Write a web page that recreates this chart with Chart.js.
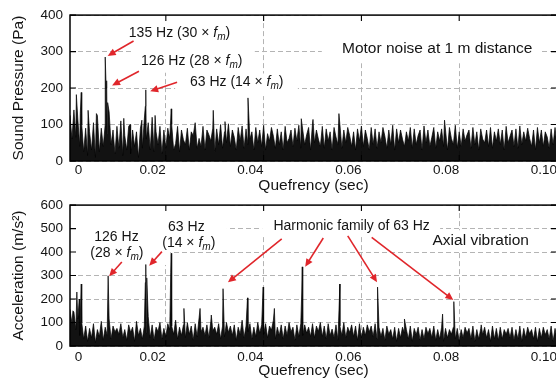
<!DOCTYPE html>
<html><head><meta charset="utf-8">
<script src="https://cdn.jsdelivr.net/npm/chart.js@4/dist/chart.umd.min.js"></script>
<style>
html,body{margin:0;padding:0;background:#fff;overflow:hidden;width:556px;height:380px;}
#c1{position:absolute;left:0;top:0;z-index:2;}
#c2{position:absolute;left:0;top:190px;z-index:1;}
</style></head><body>
<canvas id="c1" width="560" height="198"></canvas>
<canvas id="c2" width="560" height="190"></canvas>
<script>
// ---------------- data ----------------
const STEP = 0.0004; // quefrency sample spacing (sec)
const soundNoise = [
45,125,60,140,65,115,40,100,25,90, 15,80,30,105,10,125,25,90,40,100,
75,135,45,85,20,95,35,110,15,70, 30,95,20,85,40,80,10,90,35,115,
60,105,30,120,25,80,45,95,20,85, 35,90,62,100,30,48,95,25,85,58,
45,90,30,80,70,105,35,62,40,95, 30,85,72,55,90,25,88,45,100,35,
80,50,102,40,85,65,30,92,55,96, 35,88,45,60,80,30,92,50,85,40,
98,30,75,55,92,68,35,88,45,80, 30,95,50,62,85,40,90,55,98,35,
85,45,72,92,30,104,50,85,60,40, 95,35,88,55,80,30,92,66,45,100,
35,85,50,92,70,40,80,30,88,55, 96,40,85,62,30,92,45,88,35,80,
50,92,68,35,85,45,98,30,88,50, 85,60,40,80,55,92,35,88,45,70,
85,30,96,50,85,40,65,92,35,80, 55,88,40,85,30,92,62,45,98,35,
80,40,88,55,72,85,35,92,45,80, 30,88,60,50,85,40,92,35,80,55,
88,45,85,30,95,50,68,85,40,88, 35,96,45,80,55,90,62,40,85,30,
92,50,85,40,80,66,35,88,45,92,40,85
];
const soundPeaks = [ // [quefrency (s), sound pressure (Pa)]
[0.0017,182],[0.0025,130],[0.0027,188],[0.0041,139],[0.0058,130],
[0.0076,285],[0.0078,200],[0.0079,220],[0.0081,160],[0.0114,117],
[0.0127,100],[0.0151,112],[0.0158,150],[0.0159,195],[0.0178,125],
[0.0211,143],[0.0297,139],[0.0321,108],[0.0368,173],[0.0477,116],
[0.0501,114],[0.0554,130],[0.0770,112]
];
const accelNoise = [
130,155,95,145,70,115,45,100,30,85, 20,75,35,95,15,70,40,105,25,80,
45,115,30,85,60,75,50,95,35,70, 25,90,58,80,20,105,45,75,30,85,
55,125,35,90,25,80,62,100,30,75, 40,95,70,85,50,110,30,80,45,90,
35,100,50,85,25,95,40,120,60,80, 45,90,35,105,65,80,50,95,30,85,
40,100,58,85,45,90,25,80,50,110, 35,85,62,95,30,80,40,100,55,90,
50,95,35,85,68,110,30,80,45,90, 30,85,45,100,60,80,25,90,40,95,
45,90,55,80,40,95,35,85,62,100, 40,85,30,95,45,72,35,90,25,85,
45,100,35,80,58,90,40,85,25,95, 35,80,45,90,60,85,40,95,30,80,
40,75,25,85,50,70,30,80,20,75, 35,80,55,70,30,85,20,75,48,80,
25,70,30,80,52,75,35,85,25,70, 30,80,20,75,35,70,50,80,30,75,
20,70,35,80,55,75,30,85,20,70, 30,75,48,80,35,70,20,85,30,75,
25,80,30,70,50,75,35,80,25,70, 30,85,20,75,35,80,52,70,30,80,
20,75,35,80,48,70,30,85,20,75,30,80
];
const accelPeaks = [ // [quefrency (s), acceleration (m/s^2)]
[0.0010,150],[0.0018,230],[0.0023,200],[0.0027,264],[0.0082,299],
[0.0158,270],[0.0159,347],[0.0161,290],[0.0210,312],[0.0211,395],
[0.0237,160],[0.0270,160],[0.0293,132],[0.0317,244],[0.0367,205],
[0.0399,251],[0.0422,160],[0.0478,230],[0.0479,337],[0.0556,264],
[0.0633,251],[0.0688,115],[0.0766,136],[0.0789,189],[0.0845,90]
];
const xTickValues = [0, 0.02, 0.04, 0.06, 0.08, 0.10];
const xTickLabels = ['0', '0.02', '0.04', '0.06', '0.08', '0.10'];
const soundTicks = [0, 100, 200, 300, 400];
const accelTicks = [0, 100, 200, 300, 400, 500, 600];

// ---------------- helpers ----------------
const FONT = '"Liberation Sans", Arial, Helvetica, sans-serif';
const TXT = '#141414';
const RED = '#e0262b';
const GRID = '#b4b4b4';
const X_MIN = 0.0004, X_MAX = 0.1;
const ZERO_LABEL_AT = 0.0029; // the "0" label sits a little right of the frame edge

function series(noise, peaks) {
  const pts = noise.map((v, i) => ({x: i * STEP, y: v}));
  peaks.forEach(p => pts.push({x: p[0], y: p[1]}));
  pts.sort((a, b) => a.x - b.x);
  return pts;
}
function fm(pre) {
  return [{t: pre + ' \u00d7 '}, {t: 'f', it: 1}, {t: 'm', it: 1, sub: 1}, {t: ')'}];
}
function drawRich(ctx, x, y, segs, size) {
  const f = s => (s.it ? 'italic ' : '') + (s.sub ? size * 0.72 : size) + 'px ' + FONT;
  let w = 0;
  segs.forEach(s => { ctx.font = f(s); w += ctx.measureText(s.t).width; });
  let cx = x - w / 2;
  ctx.textAlign = 'left'; ctx.textBaseline = 'middle'; ctx.fillStyle = TXT;
  segs.forEach(s => {
    ctx.font = f(s);
    ctx.fillText(s.t, cx, y + (s.sub ? size * 0.3 : 0));
    cx += ctx.measureText(s.t).width;
  });
}
function arrow(ctx, x1, y1, x2, y2) {
  const a = Math.atan2(y2 - y1, x2 - x1), L = 8, W = 3.6;
  ctx.strokeStyle = RED; ctx.fillStyle = RED; ctx.lineWidth = 1.6;
  ctx.beginPath(); ctx.moveTo(x1, y1);
  ctx.lineTo(x2 - Math.cos(a) * L * 0.8, y2 - Math.sin(a) * L * 0.8); ctx.stroke();
  ctx.beginPath(); ctx.moveTo(x2, y2);
  ctx.lineTo(x2 - Math.cos(a) * L - Math.sin(a) * W, y2 - Math.sin(a) * L + Math.cos(a) * W);
  ctx.lineTo(x2 - Math.cos(a) * L + Math.sin(a) * W, y2 - Math.sin(a) * L - Math.cos(a) * W);
  ctx.closePath(); ctx.fill();
}
function decoPlugin(cfg) {
  return {
    id: 'deco',
    beforeDatasetsDraw(chart) {
      const {ctx, scales: {x, y}} = chart;
      ctx.save(); ctx.fillStyle = '#fff';
      cfg.boxes.forEach(b => {
        const x1 = x.getPixelForValue(b[0]), x2 = x.getPixelForValue(b[2]);
        const y1 = y.getPixelForValue(b[3]), y2 = y.getPixelForValue(b[1]);
        ctx.fillRect(x1, y1, x2 - x1, y2 - y1);
      });
      ctx.restore();
    },
    afterDatasetsDraw(chart) {
      const {ctx, chartArea: a, scales: {x, y}} = chart;
      ctx.save();
      cfg.texts.forEach(t => drawRich(ctx, x.getPixelForValue(t.q), y.getPixelForValue(t.v), t.segs, t.size));
      cfg.arrows.forEach(r => arrow(ctx, x.getPixelForValue(r[0]), y.getPixelForValue(r[1]),
                                          x.getPixelForValue(r[2]), y.getPixelForValue(r[3])));
      // frame
      ctx.strokeStyle = '#000'; ctx.lineWidth = 1.5; ctx.setLineDash([]);
      ctx.strokeRect(a.left, a.top, a.right - a.left, a.bottom - a.top);
      // inward tick marks on all four sides
      ctx.lineWidth = 1.1; ctx.beginPath();
      y.ticks.forEach(t => {
        const py = y.getPixelForValue(t.value);
        ctx.moveTo(a.left, py); ctx.lineTo(a.left + 6, py);
        ctx.moveTo(a.right, py); ctx.lineTo(a.right - 6, py);
      });
      xTickValues.forEach(v => {
        if (v <= X_MIN || v >= X_MAX) return;
        const px = x.getPixelForValue(v);
        ctx.moveTo(px, a.top); ctx.lineTo(px, a.top + 6);
        ctx.moveTo(px, a.bottom); ctx.lineTo(px, a.bottom - 6);
      });
      ctx.stroke();
      ctx.restore();
    }
  };
}
function makeChart(canvas, o) {
  return new Chart(canvas, {
    type: 'line',
    data: {datasets: [{
      data: o.points, parsing: false,
      borderColor: '#000', borderWidth: 0.7, pointRadius: 0, tension: 0,
      fill: 'origin', backgroundColor: 'rgba(0,0,0,0.93)'
    }]},
    options: {
      responsive: false, animation: false, events: [],
      layout: {padding: {top: o.padTop, left: 0, right: 3, bottom: 0}},
      plugins: {legend: {display: false}, tooltip: {enabled: false}},
      scales: {
        x: {
          type: 'linear', min: X_MIN, max: X_MAX,
          afterBuildTicks: s => { s.ticks = xTickValues.map(v => ({value: v === 0 ? ZERO_LABEL_AT : v})); },
          afterFit: s => { s.height = o.xHeight; },
          grid: {color: c => (c.index === 0 ? 'rgba(0,0,0,0)' : GRID), lineWidth: 1, drawTicks: false},
          border: {display: false, dash: [5, 3]},
          ticks: {autoSkip: false, maxRotation: 0, align: 'end', padding: o.xTickPad, color: TXT,
                  font: {family: FONT, size: 13.5},
                  callback: (v, i) => xTickLabels[i]},
          title: {display: true, text: 'Quefrency (sec)', color: TXT,
                  font: {family: FONT, size: 15.5}, padding: {top: 0, bottom: o.xTitlePad}}
        },
        y: {
          type: 'linear', min: o.yTicks[0], max: o.yTicks[o.yTicks.length - 1],
          afterBuildTicks: s => { s.ticks = o.yTicks.map(v => ({value: v})); },
          afterFit: s => { s.width = 70; },
          grid: {color: GRID, lineWidth: 1, drawTicks: false},
          border: {display: false, dash: [5, 3]},
          ticks: {padding: 7, color: TXT, font: {family: FONT, size: 13.5}},
          title: {display: true, text: o.yTitle, color: TXT,
                  font: {family: FONT, size: 15.5}, padding: {top: 9.7, bottom: 0}}
        }
      }
    },
    plugins: [decoPlugin(o.deco)]
  });
}

// ---------------- top: sound pressure ----------------
makeChart(document.getElementById('c1'), {
  points: series(soundNoise, soundPeaks),
  yTicks: soundTicks, yTitle: 'Sound Pressure (Pa)',
  padTop: 15, xHeight: 37, xTickPad: 1.2, xTitlePad: 2.7,
  deco: {
    boxes: [[0.0115, 313, 0.0352, 400], [0.0131, 242, 0.0382, 313],
            [0.0219, 178, 0.0470, 240], [0.0519, 268, 0.0965, 400]],
    texts: [
      {q: 0.0228, v: 351, size: 14, segs: fm('135 Hz (30')},
      {q: 0.0253, v: 275, size: 14, segs: fm('126 Hz (28')},
      {q: 0.0345, v: 216, size: 14, segs: fm('63 Hz (14')},
      {q: 0.0755, v: 307, size: 15.5, segs: [{t: 'Motor noise at 1 m distance'}]}
    ],
    arrows: [[0.0134, 329, 0.0081, 288], [0.0145, 246, 0.0090, 207], [0.0223, 216, 0.0168, 191]]
  }
});

// ---------------- bottom: axial acceleration ----------------
makeChart(document.getElementById('c2'), {
  points: series(accelNoise, accelPeaks),
  yTicks: accelTicks, yTitle: 'Acceleration (m/s\u00b2)',
  padTop: 10, xHeight: 34, xTickPad: 2.9, xTitlePad: 0,
  deco: {
    boxes: [[0.0004, 345, 0.0209, 600], [0.0178, 407, 0.0325, 600],
            [0.0397, 469, 0.0761, 600], [0.0735, 407, 0.1, 493]],
    texts: [
      {q: 0.0099, v: 463, size: 14, segs: [{t: '126 Hz'}]},
      {q: 0.0100, v: 395, size: 14, segs: [{t: '('}].concat(fm('28').map((s, i) => i === 0 ? {t: '28 \u00d7 '} : s))},
      {q: 0.0242, v: 508, size: 14, segs: [{t: '63 Hz'}]},
      {q: 0.0247, v: 439, size: 14, segs: [{t: '('}].concat(fm('14').map((s, i) => i === 0 ? {t: '14 \u00d7 '} : s))},
      {q: 0.0580, v: 510, size: 14, segs: [{t: 'Harmonic family of 63 Hz'}]},
      {q: 0.0844, v: 449, size: 15.5, segs: [{t: 'Axial vibration'}]}
    ],
    arrows: [[0.0110, 358, 0.0084, 297], [0.0192, 402, 0.0166, 342],
             [0.0437, 456, 0.0327, 271], [0.0522, 460, 0.0485, 337],
             [0.0572, 469, 0.0632, 271], [0.0621, 463, 0.0788, 196]]
  }
});
</script>
</body></html>
